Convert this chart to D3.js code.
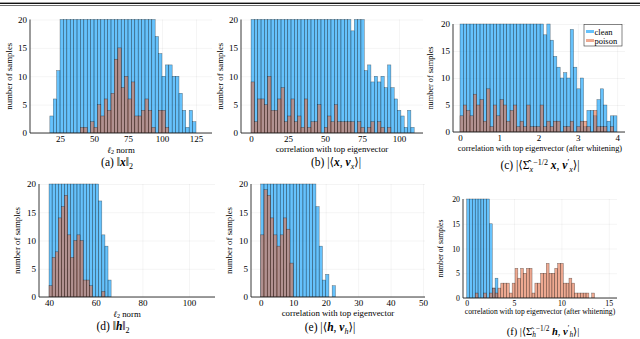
<!DOCTYPE html>
<html><head><meta charset="utf-8">
<script src="https://cdn.jsdelivr.net/npm/d3@7"></script>
<style>
body{margin:0;background:#fff}
svg text{font-family:"Liberation Serif","DejaVu Serif",serif;fill:#000}
</style>
</head><body>
<svg id="c" width="640" height="339"></svg>
<script>
// ---------------- DATA ----------------
const yTicks = [0, 5, 10, 15, 20];

// (a) ||x||_2
const aTicks = [25, 50, 75, 100, 125];
const aCleanStart = 10, aPoisonStart = 40, aBinWidth = 2.5;
const aClean = [0,0,0,3,6,11,20,20,20,20,20,20,20,20,20,20,20,20,20,20,20,20,20,20,20,20,20,20,20,20,20,20,20,20,17,14,10,12,12,10,10,7,4,1,4,2];
const aPoison = [1,1,0,2,1,5,3,6,4,7,13,15,8,10,6,9,3,3,4,6,4,1,0,4,4,1];

// (b) |<x, v_x>|
const bTicks = [0, 25, 50, 75, 100];
const bStart = 0, bBinWidth = 2.25;
const bClean = [20,20,20,20,20,20,20,20,20,20,20,20,20,20,20,20,20,20,20,20,20,20,20,20,20,20,20,20,20,20,18,20,20,20,11,12,9,10,9,10,8,12,8,6,4,3,1,4,1];
const bPoison = [9,2,6,6,5,10,4,4,6,8,2,3,6,2,3,1,6,1,2,2,5,0,1,3,2,5,2,2,2,2,2,0,2,1,0,1,2,0,2,1,0,1,0,0,0,0,0,0,0];

// (c) whitened x
const cTicks = [0, 1, 2, 3, 4];
const cStart = 0, cBinWidth = 0.085;
const cClean = [20,20,20,20,20,20,20,20,20,20,20,20,20,20,20,20,20,20,20,20,20,20,20,20,20,18,20,17,14,12,10,11,10,19,12,8,10,1,4,4,3,6,8,5,2,3,3];
const cPoison = [3,5,4,3,7,5,6,2,8,1,5,3,6,5,2,4,5,1,2,1,5,1,1,1,5,1,2,1,2,2,0,1,1,2,0,1,2,2,1,0,4,1,1,1,0,1,0];

// (d) ||h||_2
const dTicks = [40, 60, 80, 100];
const dStart = 40, dBinWidth = 1.33;
const dClean = [20,20,20,20,20,20,20,20,20,20,20,20,20,20,20,20,17,11,9,3];
const dPoison = [2,7,8,14,16,18,11,7,10,11,10,3,3,2,0,0,0,1];

// (e) |<h, v_h>|
const eTicks = [0, 10, 20, 30, 40, 50];
const eStart = 0, eBinWidth = 1;
const eClean = [20,20,20,20,20,20,20,20,20,20,20,20,20,20,20,20,20,16,9,3,4,0,2];
const ePoison = [11,19,18,14,11,9,11,14,12,6];

// (f) whitened h
const fTicks = [0, 5, 10, 15];
const fStart = 0, fBinWidth = 0.3;
const fClean = [20,20,20,20,20,20,20,20,15,2,4];
const fPoison = [0,0,0,1,0,0,1,0,1,2,1,2,3,3,3,1,3,6,4,6,5,6,6,1,3,3,5,5,7,5,5,6,7,7,3,3,4,3,1,1,1,1,1,0,1];

const seriesNames = ["clean", "poison"];
const xLabelNorm = "norm";
const xLabelCorr = "correlation with top eigenvector";
const xLabelCorrW = "correlation with top eigenvector (after whitening)";
const yLabel = "number of samples";

// ---------------- DRAW ----------------
const svg = d3.select("#c");
const CLEAN = "rgb(0,154,250)", POISON = "rgb(227,111,71)";

// header rule of the page
svg.append("rect").attr("x",0).attr("y",2.6).attr("width",640).attr("height",1.4).attr("fill","#111");
svg.append("rect").attr("x",0).attr("y",5.2).attr("width",640).attr("height",0.6).attr("fill","#111");

function rich(sel, parts, size) {
  let shift = 0;
  parts.forEach(p => {
    const ts = sel.append("tspan").text(p.t);
    const target = p.sub ? size*0.22 : p.sup ? -size*0.38 : 0;
    ts.attr("dy", target - shift); shift = target;
    ts.attr("font-size", (p.sub||p.sup) ? size*0.7 : size);
    if (p.bi) ts.attr("font-weight","bold").attr("font-style","italic");
    if (p.i) ts.attr("font-style","italic");
  });
}

let clipId = 0;
function panel(cfg) {
  const x = d3.scaleLinear().domain(cfg.xDomain).range([cfg.left, cfg.right]);
  const y = d3.scaleLinear().domain([0, 20]).range([cfg.bottom, cfg.top]);
  const g = svg.append("g");
  const fs = cfg.fs;
  const fmt = d3.format("~g");

  // grid
  g.append("g").attr("transform", `translate(0,${cfg.bottom})`)
    .call(d3.axisBottom(x).tickValues(cfg.xTicks).tickSize(-(cfg.bottom-cfg.top)).tickFormat(""))
    .call(s => s.select(".domain").remove())
    .call(s => s.selectAll("line").attr("stroke","#000").attr("stroke-opacity",0.09).attr("stroke-width",0.5));
  g.append("g").attr("transform", `translate(${cfg.left},0)`)
    .call(d3.axisLeft(y).tickValues(yTicks).tickSize(-(cfg.right-cfg.left)).tickFormat(""))
    .call(s => s.select(".domain").remove())
    .call(s => s.selectAll("line").attr("stroke","#000").attr("stroke-opacity",0.09).attr("stroke-width",0.5));

  const id = "clip" + (clipId++);
  svg.append("clipPath").attr("id", id).append("rect")
    .attr("x", cfg.left).attr("y", cfg.top - 1).attr("width", cfg.right - cfg.left).attr("height", cfg.bottom - cfg.top + 1);

  function bars(counts, start, w, color) {
    const data = counts.map((c, i) => ({x0: start + i*w, x1: start + (i+1)*w, c}));
    g.append("g").attr("clip-path", `url(#${id})`).selectAll("rect").data(data).join("rect")
      .attr("x", d => x(d.x0)).attr("width", d => x(d.x1) - x(d.x0))
      .attr("y", d => y(d.c)).attr("height", d => y(0) - y(d.c))
      .attr("fill", color).attr("fill-opacity", 0.6)
      .attr("stroke", "#000").attr("stroke-opacity", 0.5).attr("stroke-width", 0.5);
  }
  bars(cfg.clean, cfg.cleanStart, cfg.w, CLEAN);
  bars(cfg.poison, cfg.poisonStart, cfg.w, POISON);

  // axes
  const ax = g.append("g").attr("transform", `translate(0,${cfg.bottom})`)
    .call(d3.axisBottom(x).tickValues(cfg.xTicks).tickSize(0).tickPadding(cfg.xPad).tickFormat(fmt));
  ax.select(".domain").attr("d", `M${cfg.left},0H${cfg.right}`).attr("stroke","#222").attr("stroke-width",0.9);
  ax.selectAll("text").attr("font-size", fs).attr("font-family", null);
  const ay = g.append("g").attr("transform", `translate(${cfg.left},0)`)
    .call(d3.axisLeft(y).tickValues(yTicks).tickSize(0).tickPadding(3).tickFormat(fmt));
  ay.select(".domain").attr("d", `M0,${cfg.bottom}V${cfg.top}`).attr("stroke","#222").attr("stroke-width",0.9);
  ay.selectAll("text").attr("font-size", fs).attr("font-family", null);

  // y label
  g.append("text").attr("transform", `translate(${cfg.yLabX},${(cfg.top+cfg.bottom)/2}) rotate(-90)`)
    .attr("text-anchor","middle").attr("font-size", cfg.labFs).text(yLabel);
  // x label
  const xl = g.append("text").attr("x", cfg.xLabCX).attr("y", cfg.xLabY).attr("text-anchor","middle");
  rich(xl, cfg.xLabParts, cfg.labFs);
  // caption
  const cp = g.append("text").attr("x", cfg.capX).attr("y", cfg.capY).attr("text-anchor","middle");
  rich(cp, cfg.capParts, cfg.capFs);
  return {x, y, g};
}

const normParts = [{t:"ℓ", i:true}, {t:"2", sub:true}, {t:" " + xLabelNorm}];

// (a)
panel({left:30, right:212, top:19.5, bottom:133, xDomain:[2.9,136.8], xTicks:aTicks,
  clean:aClean, cleanStart:aCleanStart, poison:aPoison, poisonStart:aPoisonStart, w:aBinWidth,
  fs:9, labFs:8.8, xPad:2.5, yLabX:12, xLabCX:121, xLabY:152.5, xLabParts:normParts,
  capX:117, capY:166, capFs:11.5,
  capParts:[{t:"(a) ‖"},{t:"x",bi:true},{t:"‖"},{t:"2",sub:true}]});

// (b)
panel({left:241, right:423, top:19.5, bottom:133, xDomain:[-6.8,116.2], xTicks:bTicks,
  clean:bClean, cleanStart:bStart, poison:bPoison, poisonStart:bStart, w:bBinWidth,
  fs:9, labFs:8.8, xPad:2.5, yLabX:223, xLabCX:332, xLabY:152, xLabParts:[{t:xLabelCorr}],
  capX:336, capY:166, capFs:11.5,
  capParts:[{t:"(b) |⟨"},{t:"x",bi:true},{t:", "},{t:"v",bi:true},{t:"x",sub:true,i:true},{t:"⟩|"}]});

// (c)
panel({left:453, right:625, top:24, bottom:132, xDomain:[-0.178,4.2], xTicks:cTicks,
  clean:cClean, cleanStart:cStart, poison:cPoison, poisonStart:cStart, w:cBinWidth,
  fs:9, labFs:8.3, xPad:2.5, yLabX:433, xLabCX:540, xLabY:151, xLabParts:[{t:xLabelCorrW}],
  capX:540, capY:169, capFs:11.5,
  capParts:[{t:"(c) |⟨Σ̂"},{t:"x",sub:true,i:true},{t:"−1/2",sup:true},{t:" "},{t:"x",bi:true},{t:", "},{t:"v",bi:true},{t:"′",sup:true},{t:"x",sub:true,i:true},{t:"⟩|"}]});

// legend in (c)
const lg = svg.append("g");
lg.append("rect").attr("x",584).attr("y",24.5).attr("width",38).attr("height",21.5)
  .attr("fill","#fff").attr("stroke","#333").attr("stroke-width",0.6);
[CLEAN, POISON].forEach((col, i) => {
  const yy = 31.5 + i*9;
  lg.append("line").attr("x1",586).attr("x2",594).attr("y1",yy).attr("y2",yy)
    .attr("stroke",col).attr("stroke-opacity",0.6).attr("stroke-width",3);
  lg.append("text").attr("x",594.5).attr("y",yy+3).attr("font-size",8.5).text(seriesNames[i]);
});

// (d)
panel({left:39, right:215, top:184, bottom:297, xDomain:[35.7,111.1], xTicks:dTicks,
  clean:dClean, cleanStart:dStart, poison:dPoison, poisonStart:dStart, w:dBinWidth,
  fs:9, labFs:8.8, xPad:2.5, yLabX:20, xLabCX:127, xLabY:316.5, xLabParts:normParts,
  capX:113, capY:330, capFs:11.5,
  capParts:[{t:"(d) ‖"},{t:"h",bi:true},{t:"‖"},{t:"2",sub:true}]});

// (e)
panel({left:251, right:425, top:184, bottom:297, xDomain:[-3.0,50.6], xTicks:eTicks,
  clean:eClean, cleanStart:eStart, poison:ePoison, poisonStart:eStart, w:eBinWidth,
  fs:9, labFs:8.8, xPad:2.5, yLabX:232, xLabCX:338, xLabY:316, xLabParts:[{t:xLabelCorr}],
  capX:330, capY:331, capFs:11.5,
  capParts:[{t:"(e) |⟨"},{t:"h",bi:true},{t:", "},{t:"v",bi:true},{t:"h",sub:true,i:true},{t:"⟩|"}]});

// (f)
panel({left:463, right:617, top:199, bottom:298, xDomain:[-0.39,15.87], xTicks:fTicks,
  clean:fClean, cleanStart:fStart, poison:fPoison, poisonStart:fStart, w:fBinWidth,
  fs:7.8, labFs:7.6, xPad:2, yLabX:443, xLabCX:540, xLabY:313.5, xLabParts:[{t:xLabelCorrW}],
  capX:543, capY:334.5, capFs:10.5,
  capParts:[{t:"(f) |⟨Σ̂"},{t:"h",sub:true,i:true},{t:"−1/2",sup:true},{t:" "},{t:"h",bi:true},{t:", "},{t:"v",bi:true},{t:"′",sup:true},{t:"h",sub:true,i:true},{t:"⟩|"}]});
</script>
</body></html>
